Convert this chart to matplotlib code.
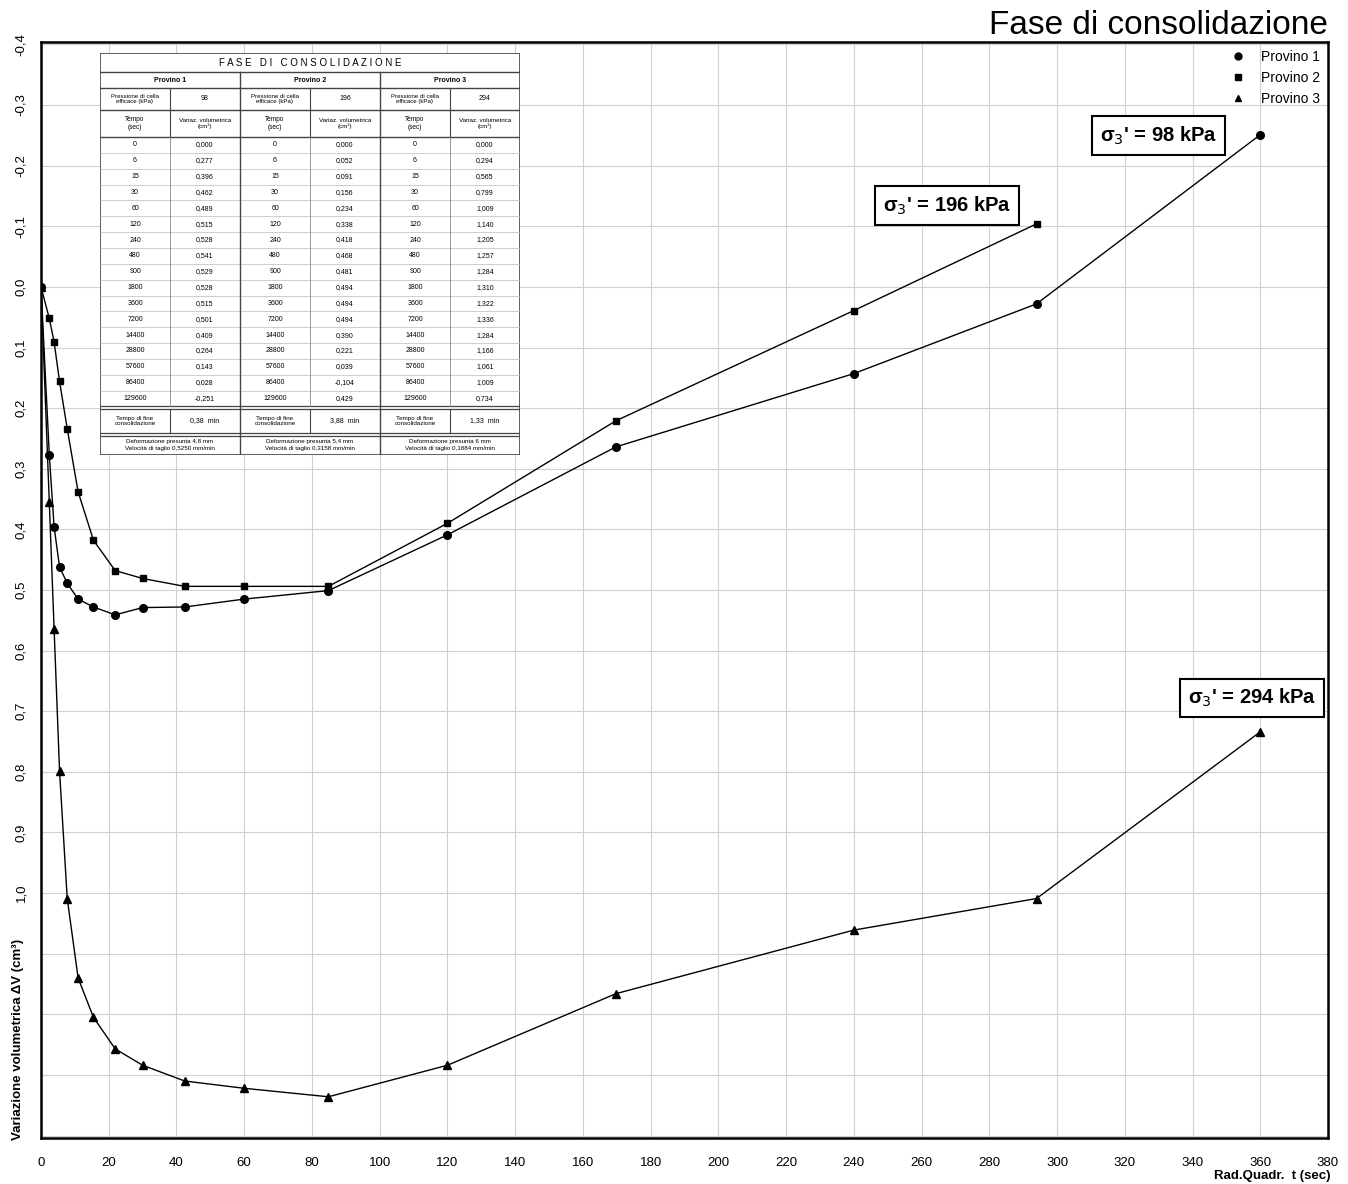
import numpy as np
import matplotlib
matplotlib.use('Agg')
from matplotlib import pyplot as plt
from matplotlib.lines import Line2D
from matplotlib.ticker import MultipleLocator, FuncFormatter

plt.rcParams['font.family'] = ['Liberation Sans', 'DejaVu Sans']

# tempi (s) e radice del tempo
tempi = [0, 6, 15, 30, 60, 120, 240, 480, 900, 1800, 3600, 7200, 14400, 28800, 57600, 86400, 129600]
rad_t = np.sqrt(tempi)

# variazione volumetrica (cm3)
provino1 = [0.000, 0.277, 0.396, 0.462, 0.489, 0.515, 0.528, 0.541, 0.529, 0.528, 0.515, 0.501,
            0.409, 0.264, 0.143, 0.028, -0.251]
provino2 = [0.000, 0.052, 0.091, 0.156, 0.234, 0.338, 0.418, 0.468, 0.481, 0.494, 0.494, 0.494,
            0.390, 0.221, 0.039, -0.104]
provino3 = [0.000, 0.355, 0.565, 0.799, 1.009, 1.140, 1.205, 1.257, 1.284, 1.310, 1.322, 1.336,
            1.284, 1.166, 1.061, 1.009, 0.734]

# testi della tabella
tab_p1 = ['0,000', '0,277', '0,396', '0,462', '0,489', '0,515', '0,528', '0,541', '0,529', '0,528',
          '0,515', '0,501', '0,409', '0,264', '0,143', '0,028', '-0,251']
tab_p2 = ['0,000', '0,052', '0,091', '0,156', '0,234', '0,338', '0,418', '0,468', '0,481', '0,494',
          '0,494', '0,494', '0,390', '0,221', '0,039', '-0,104', '0,429']
tab_p3 = ['0,000', '0,294', '0,565', '0,799', '1,009', '1,140', '1,205', '1,257', '1,284', '1,310',
          '1,322', '1,336', '1,284', '1,166', '1,061', '1,009', '0,734']
pressioni = ['98', '196', '294']
t_fine = ['0,38  min', '3,88  min', '1,33  min']
deform = ['Deformazione presunta 4,8 mm', 'Deformazione presunta 5,4 mm', 'Deformazione presunta 6 mm']
velocita = ['Velocità di taglio 0,5250 mm/min', 'Velocità di taglio 0,3158 mm/min',
            'Velocità di taglio 0,1884 mm/min']

etichette = ["σ$_3$' = 98 kPa", "σ$_3$' = 196 kPa", "σ$_3$' = 294 kPa"]
pos_etichette = [(330, -0.25), (267.5, -0.134), (357.5, 0.678)]

fig = plt.figure(figsize=(13.48, 11.84), dpi=100)
ax = fig.add_axes([41 / 1348, 1 - 1138 / 1184, 1287 / 1348, 1096 / 1184])

ax.plot(rad_t, provino1, color='black', lw=1, marker='o', ms=5.5)
ax.plot(rad_t[:len(provino2)], provino2, color='black', lw=1, marker='s', ms=5)
ax.plot(rad_t, provino3, color='black', lw=1, marker='^', ms=6)

ax.set_xlim(0, 380)
ax.set_ylim(1.404, -0.404)
ax.xaxis.set_major_locator(MultipleLocator(20))
ax.yaxis.set_major_locator(MultipleLocator(0.1))
ax.grid(True, color='#d0d0d0', lw=0.8)
ax.set_axisbelow(True)
ax.tick_params(length=0, labelsize=9.5, pad=14)
ax.tick_params(axis='y', pad=10)


def fmt_y(v, pos):
    if v > 1.05:
        return ''
    return ('%.1f' % v).replace('.', ',').replace('-0,0', '0,0')


ax.yaxis.set_major_formatter(FuncFormatter(fmt_y))
for lab in ax.get_yticklabels():
    lab.set_rotation(90)
    lab.set_va('center')
for s in ax.spines.values():
    s.set_linewidth(1.8)

for txt, (x, y) in zip(etichette, pos_etichette):
    ax.text(x, y, txt, ha='center', va='center', fontsize=14.5, fontweight='bold',
            bbox=dict(boxstyle='square,pad=0.4', fc='white', ec='black', lw=1.5))

handles = [Line2D([], [], color='black', marker=m, ls='none', ms=5) for m in ['o', 's', '^']]
ax.legend(handles, ['Provino 1', 'Provino 2', 'Provino 3'], loc='upper right', frameon=False,
          fontsize=10, handletextpad=0.6, labelspacing=0.5, borderaxespad=0.2)

fig.text(1328 / 1348, 1 - 25 / 1184, 'Fase di consolidazione', ha='right', va='center', fontsize=24)
fig.text(18 / 1348, 1 - 1140 / 1184, 'Variazione volumetrica ΔV (cm³)', rotation=90, ha='center',
         va='bottom', fontsize=9.5, fontweight='bold')
fig.text(1330 / 1348, 1 - 1176 / 1184, 'Rad.Quadr.  t (sec)', ha='right', va='center', fontsize=9.5,
         fontweight='bold')

# tabella riassuntiva
tb = fig.add_axes([100 / 1348, 1 - 455 / 1184, 420 / 1348, 402 / 1184])
tb.set_xlim(0, 420)
tb.set_ylim(402, 0)
tb.axis('off')
tb.add_patch(plt.Rectangle((0, 0), 420, 402, fc='white', ec='#444444', lw=1.2))

fs = 5
grigio = '#888888'
tb.text(210, 9.5, 'F A S E   D I   C O N S O L I D A Z I O N E', ha='center', va='center', fontsize=7)
tb.plot([0, 420], [19, 19], color='#444444', lw=1)
tb.plot([0, 420], [35, 35], color='#444444', lw=1)
tb.plot([0, 420], [57, 57], color='#444444', lw=1)
tb.plot([0, 420], [84, 84], color='#444444', lw=1)

riga = 15.85
y0 = 84
y_fine = y0 + riga * len(tempi)
for i in range(1, len(tempi)):
    tb.plot([0, 420], [y0 + i * riga] * 2, color='#bbbbbb', lw=0.5)
tb.plot([0, 420], [y_fine, y_fine], color='#444444', lw=0.9)
tb.plot([0, 420], [y_fine + 2.5, y_fine + 2.5], color='#444444', lw=0.9)
tb.plot([0, 420], [380, 380], color='#444444', lw=0.9)
tb.plot([0, 420], [382.5, 382.5], color='#444444', lw=0.9)

for k, (pres, colonna) in enumerate(zip(pressioni, [tab_p1, tab_p2, tab_p3])):
    x0 = k * 140
    if k > 0:
        tb.plot([x0, x0], [19, 402], color='#444444', lw=1)
    tb.plot([x0 + 70, x0 + 70], [35, 84], color='#444444', lw=0.8)
    tb.plot([x0 + 70, x0 + 70], [84, y_fine], color=grigio, lw=0.6)
    tb.plot([x0 + 70, x0 + 70], [y_fine + 2.5, 380], color='#444444', lw=0.8)
    tb.text(x0 + 70, 27, 'Provino %d' % (k + 1), ha='center', va='center', fontsize=fs, fontweight='bold')
    tb.text(x0 + 35, 46, 'Pressione di cella\nefficace (kPa)', ha='center', va='center', fontsize=fs - 0.6,
            linespacing=1.0)
    tb.text(x0 + 105, 46, pres, ha='center', va='center', fontsize=fs)
    tb.text(x0 + 35, 70.5, 'Tempo\n(sec)', ha='center', va='center', fontsize=fs - 0.3, linespacing=1.2)
    tb.text(x0 + 105, 70.5, 'Variaz. volumetrica\n(cm³)', ha='center', va='center', fontsize=fs - 0.5,
            linespacing=1.2)
    for i, (t, v) in enumerate(zip(tempi, colonna)):
        yc = y0 + (i + 0.5) * riga
        tb.text(x0 + 35, yc, str(t), ha='center', va='center', fontsize=fs)
        tb.text(x0 + 105, yc, v, ha='center', va='center', fontsize=fs)
    tb.text(x0 + 35, 368, 'Tempo di fine\nconsolidazione', ha='center', va='center', fontsize=fs - 0.5,
            linespacing=1.1)
    tb.text(x0 + 105, 368, t_fine[k], ha='center', va='center', fontsize=fs)
    tb.text(x0 + 70, 392, deform[k] + '\n' + velocita[k], ha='center', va='center', fontsize=fs - 0.5,
            linespacing=1.3)

fig.savefig('out.png', dpi=100)
